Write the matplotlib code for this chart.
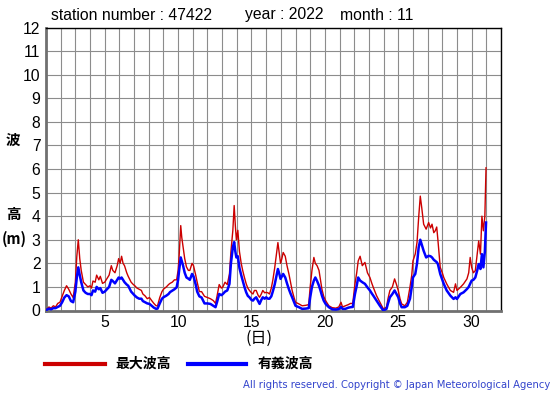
import matplotlib
matplotlib.use("Agg")
import matplotlib.pyplot as plt

# ---- data ----
days = [1.05, 1.2, 1.35, 1.5, 1.65, 1.8, 1.95, 2.1, 2.25, 2.4, 2.55, 2.7, 2.85,
        3.0, 3.1, 3.2, 3.3, 3.4, 3.55, 3.7, 3.85, 4.0, 4.1, 4.2, 4.35, 4.45, 4.6,
        4.7, 4.85, 5.0, 5.15, 5.3, 5.45, 5.55, 5.7, 5.85, 5.95, 6.05, 6.15, 6.25,
        6.35, 6.5, 6.6, 6.8, 6.95, 7.05, 7.2, 7.35, 7.5, 7.6, 7.75, 7.9, 8.05,
        8.2, 8.35, 8.5, 8.6, 8.75, 8.9, 9.0, 9.2, 9.35, 9.45, 9.6, 9.75, 9.9,
        10.0, 10.07, 10.18, 10.25, 10.34, 10.45, 10.57, 10.7, 10.8, 10.95, 11.05,
        11.2, 11.3, 11.45, 11.6, 11.8, 12.0, 12.2, 12.4, 12.55, 12.65, 12.8,
        12.95, 13.05, 13.2, 13.35, 13.5, 13.6, 13.73, 13.82, 13.9, 13.97, 14.07,
        14.18, 14.3, 14.4, 14.52, 14.64, 14.75, 14.86, 15.0, 15.1, 15.2, 15.32,
        15.45, 15.55, 15.67, 15.77, 15.9, 16.0, 16.12, 16.23, 16.35, 16.45,
        16.58, 16.68, 16.8, 16.9, 16.98, 17.07, 17.16, 17.3, 17.42, 17.55, 17.66,
        17.77, 17.9, 18.0, 18.23, 18.45, 18.7, 18.9, 19.0, 19.12, 19.25, 19.35,
        19.47, 19.6, 19.7, 19.8, 19.92, 20.05, 20.27, 20.5, 20.75, 20.95, 21.1,
        21.2, 21.4, 21.6, 21.75, 21.9, 22.05, 22.17, 22.27, 22.4, 22.55, 22.73,
        22.9, 23.07, 23.2, 23.3, 23.52, 23.75, 23.98, 24.2, 24.3, 24.43, 24.6,
        24.75, 24.88, 25.0, 25.12, 25.23, 25.45, 25.62, 25.8, 25.92, 26.0, 26.16,
        26.28, 26.39, 26.5, 26.6, 26.73, 26.9, 27.07, 27.2, 27.3, 27.42, 27.52,
        27.62, 27.7, 27.78, 27.86, 28.0, 28.1, 28.3, 28.55, 28.77, 28.9, 29.0,
        29.23, 29.45, 29.68, 29.8, 29.9, 30.0, 30.12, 30.25, 30.38, 30.48, 30.6,
        30.7, 30.8, 30.9, 30.98]

max_wave = [0.05, 0.15, 0.1, 0.2, 0.15, 0.3, 0.35, 0.6, 0.85, 1.05, 0.9, 0.7, 0.55,
            1.2, 2.3, 3.0, 2.2, 1.7, 1.2, 1.1, 1.0, 1.05, 0.95, 1.25, 1.2, 1.5, 1.3,
            1.45, 1.15, 1.2, 1.35, 1.5, 1.9, 1.7, 1.6, 1.9, 2.2, 2.0, 2.3, 2.0,
            1.9, 1.6, 1.45, 1.2, 1.1, 1.05, 0.95, 0.9, 0.85, 0.7, 0.62, 0.5, 0.55,
            0.42, 0.3, 0.2, 0.2, 0.55, 0.8, 0.9, 1.0, 1.1, 1.15, 1.2, 1.3, 1.3,
            1.7, 2.3, 3.6, 3.1, 2.7, 2.2, 1.85, 1.7, 1.7, 2.0, 1.9,
            1.5, 1.2, 0.8, 0.8, 0.6, 0.55, 0.5, 0.42, 0.3, 0.6, 1.1,
            0.95, 1.0, 1.2, 1.1, 1.55, 2.5, 3.4, 4.45, 3.6, 3.0, 3.4,
            2.5, 2.0, 1.7, 1.4, 1.13, 0.95, 0.85, 0.75, 0.7, 0.85, 0.85,
            0.65, 0.56, 0.7, 0.85, 0.75, 0.77, 0.75, 0.7, 0.95, 1.27,
            1.8, 2.3, 2.88, 2.4, 2.0, 2.2, 2.46, 2.3, 1.9, 1.55, 1.2,
            0.85, 0.55, 0.35, 0.28, 0.2, 0.22, 0.25, 1.0, 1.7, 2.25, 2.0,
            1.9, 1.7, 1.3, 0.9, 0.6, 0.42, 0.2, 0.12, 0.1, 0.15, 0.35,
            0.15, 0.2, 0.25, 0.3, 0.3, 1.13, 1.6, 2.1, 2.3, 1.9, 2.04,
            1.6, 1.4, 1.15, 0.98, 0.63, 0.35, 0.07, 0.14, 0.5, 0.85, 1.0,
            1.34, 1.1, 0.85, 0.5, 0.28, 0.2, 0.35, 1.0, 1.5, 2.1, 2.4,
            2.9, 3.94, 4.85, 4.36, 3.66, 3.45, 3.73, 3.5, 3.66, 3.3, 3.38,
            3.54, 3.0, 2.4, 1.83, 1.6, 1.4, 1.13, 0.85, 0.77, 1.13, 0.85,
            0.98, 1.13, 1.34, 1.6, 2.25, 1.83, 1.6, 1.69, 2.4, 2.95, 2.39,
            4.0, 3.38, 4.0, 6.05]

sig_wave = [0.03, 0.08, 0.05, 0.1, 0.1, 0.15, 0.2, 0.35, 0.55, 0.65, 0.6, 0.4, 0.35,
            0.8, 1.4, 1.83, 1.5, 1.2, 0.85, 0.75, 0.7, 0.7, 0.65, 0.85, 0.8, 1.0, 0.9,
            0.95, 0.75, 0.8, 0.9, 1.0, 1.3, 1.25, 1.15, 1.3, 1.4, 1.35, 1.4, 1.3,
            1.2, 1.1, 1.05, 0.8, 0.7, 0.63, 0.55, 0.5, 0.5, 0.4, 0.35, 0.3, 0.28,
            0.2, 0.12, 0.07, 0.08, 0.3, 0.5, 0.56, 0.63, 0.7, 0.78, 0.84, 0.9, 0.98,
            1.3, 1.7, 2.25, 2.1, 1.9, 1.6, 1.4, 1.35, 1.3, 1.55, 1.45,
            1.1, 0.8, 0.6, 0.55, 0.3, 0.3, 0.28, 0.2, 0.14, 0.35, 0.7,
            0.65, 0.7, 0.8, 0.85, 1.13, 2.0, 2.68, 2.9, 2.5, 2.25, 2.3,
            1.8, 1.5, 1.27, 1.0, 0.77, 0.62, 0.56, 0.45, 0.42, 0.5, 0.56,
            0.4, 0.28, 0.45, 0.56, 0.5, 0.56, 0.5, 0.5, 0.6, 0.8,
            1.1, 1.4, 1.76, 1.55, 1.34, 1.45, 1.55, 1.4, 1.15, 0.9, 0.72,
            0.56, 0.35, 0.2, 0.14, 0.07, 0.08, 0.1, 0.56, 1.0, 1.27, 1.4,
            1.25, 1.05, 0.85, 0.63, 0.42, 0.28, 0.14, 0.05, 0.04, 0.06, 0.15,
            0.07, 0.07, 0.12, 0.14, 0.15, 0.7, 1.05, 1.4, 1.27, 1.2, 1.13,
            0.98, 0.85, 0.72, 0.63, 0.42, 0.2, 0.0, 0.07, 0.3, 0.56, 0.7,
            0.85, 0.7, 0.56, 0.3, 0.14, 0.14, 0.2, 0.5, 1.0, 1.4, 1.55,
            2.0, 2.67, 3.0, 2.8, 2.53, 2.25, 2.32, 2.3, 2.25, 2.15, 2.1,
            2.05, 1.97, 1.75, 1.55, 1.3, 1.13, 0.85, 0.63, 0.49, 0.56, 0.49,
            0.7, 0.77, 0.91, 1.0, 1.13, 1.27, 1.3, 1.4, 1.7, 1.97, 1.76,
            2.39, 1.83, 2.5, 3.73]

xtick_vals = [5, 10, 15, 20, 25, 30]
ytick_vals = list(range(0, 13))
legend_labels = ["最大波高", "有義波高"]
title_parts = ["station number : 47422", "year : 2022", "month : 11"]

W, H = 555, 395
fig = plt.figure(figsize=(W / 100, H / 100), dpi=100)

def fx(x):
    return x / W

def fy(y):
    return 1 - y / H

L, R, T, B = 46, 501, 27.5, 310.5
ax = fig.add_axes([fx(L), fy(B), fx(R) - fx(L), fy(T) - fy(B)])

RED = "#cc0000"
BLUE = "#0000ff"
ax.plot(days, max_wave, color=RED, lw=1.0, zorder=3)
ax.plot(days, sig_wave, color=BLUE, lw=1.8, zorder=4)

ax.set_xlim(1, 32)
ax.set_ylim(0, 12)
ax.set_xticks(range(1, 33), minor=False)
ax.set_xticklabels([str(d) if d in xtick_vals else "" for d in range(1, 33)])
ax.set_yticks(ytick_vals)
ax.set_yticklabels([str(v) for v in ytick_vals])
ax.grid(True, color="#8c8c8c", lw=0.8)
ax.set_axisbelow(True)
ax.tick_params(length=0, labelsize=11.3, pad=4)
for lab in ax.get_xticklabels() + ax.get_yticklabels():
    lab.set_family("Liberation Sans")
ax.tick_params(axis="x", pad=3)

for s in ["top", "right"]:
    ax.spines[s].set_color("black")
    ax.spines[s].set_linewidth(1.0)
for s in ["left", "bottom"]:
    ax.spines[s].set_color("#707070")
    ax.spines[s].set_linewidth(2.0)

# title texts
fig.text(fx(51), fy(15), title_parts[0], fontsize=11.3, family="Liberation Sans", va="center", ha="left")
fig.text(fx(245), fy(15), title_parts[1], fontsize=11.3, family="Liberation Sans", va="center", ha="left")
fig.text(fx(340), fy(15), title_parts[2], fontsize=11.3, family="Liberation Sans", va="center", ha="left")

cjk = ["Noto Sans CJK JP", "DejaVu Sans"]
# y label
fig.text(fx(13), fy(140), "波", fontsize=10.5, family=cjk, weight="bold", ha="center", va="center")
fig.text(fx(13), fy(214), "高", fontsize=10.5, family=cjk, weight="bold", ha="center", va="center")
fig.text(fx(14), fy(239), "(m)", fontsize=10.5, family=cjk, weight="bold", ha="center", va="center")
# x label
fig.text(fx(259), fy(338), "(日)", fontsize=11.5, family=cjk, ha="center", va="center")

# legend
fig.add_artist(plt.Line2D([fx(45), fx(105)], [fy(364), fy(364)], color=RED, lw=3, transform=fig.transFigure))
fig.text(fx(115), fy(364), legend_labels[0], fontsize=10, family=cjk, weight="bold", ha="left", va="center")
fig.add_artist(plt.Line2D([fx(188), fx(246)], [fy(364), fy(364)], color=BLUE, lw=3, transform=fig.transFigure))
fig.text(fx(258), fy(364), legend_labels[1], fontsize=10, family=cjk, weight="bold", ha="left", va="center")

fig.text(fx(550), fy(385), "All rights reserved. Copyright \u00a9 Japan Meteorological Agency",
         fontsize=7.2, color="#3344cc", ha="right", va="center", family="DejaVu Sans")

fig.savefig("out.png", dpi=100)
